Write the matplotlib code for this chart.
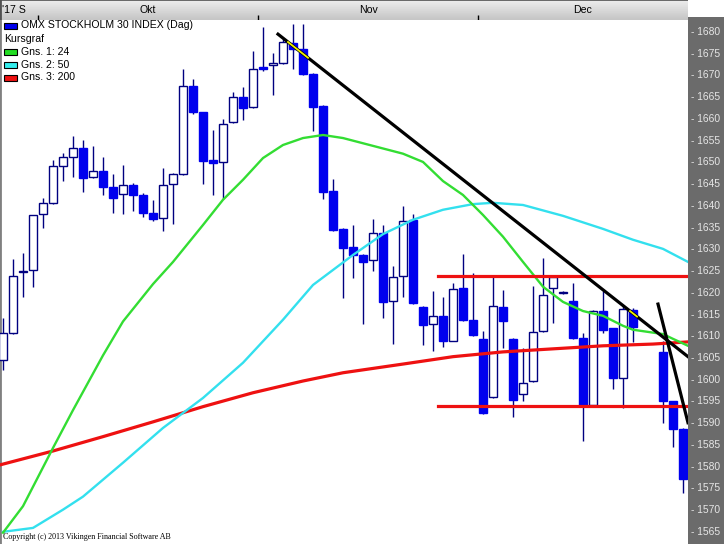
import numpy as np
import pandas as pd
import matplotlib
matplotlib.use("Agg")
import matplotlib.pyplot as plt
from matplotlib.patches import Rectangle
from matplotlib.colors import LinearSegmentedColormap
from matplotlib.transforms import blended_transform_factory

W, H = 724, 544
plt.rcParams['font.family'] = ['Liberation Sans', 'DejaVu Sans']

# trading calendar (Christmas holidays leave empty slots)
all_days = pd.bdate_range('2017-09-26', '2017-12-29')
holidays = pd.to_datetime(['2017-12-25', '2017-12-26'])
trade_days = all_days.drop(holidays)
slots = all_days.get_indexer(trade_days)

op = [1604.6, 1610.8, 1624.7, 1625.3, 1638.1, 1640.7, 1649.2, 1651.3, 1653.4, 1646.6,
      1648.0, 1644.3, 1642.7, 1644.8, 1642.5, 1638.4, 1637.2, 1645.0, 1647.3, 1667.6,
      1661.5, 1650.6, 1650.0, 1659.2, 1665.0, 1662.7, 1672.0, 1672.3, 1672.9, 1677.5,
      1676.2, 1670.3, 1663.0, 1643.4, 1634.7, 1630.5, 1628.7, 1627.5, 1633.7, 1618.1,
      1623.9, 1636.8, 1616.8, 1612.8, 1614.7, 1609.0, 1621.1, 1613.8, 1609.3, 1596.0,
      1616.8, 1609.3, 1596.7, 1599.8, 1611.1, 1621.0, 1620.0, 1618.1, 1609.6, 1594.1,
      1615.7, 1611.9, 1600.4, 1616.1, 1606.3, 1595.0, 1588.6]
hi = [1614.2, 1627.8, 1629.2, 1638.0, 1641.9, 1650.6, 1652.1, 1656.1, 1655.2, 1653.8,
      1651.3, 1647.3, 1649.4, 1645.2, 1643.0, 1641.4, 1648.7, 1647.5, 1671.4, 1669.3,
      1661.6, 1657.5, 1659.9, 1666.3, 1667.4, 1675.6, 1681.1, 1675.1, 1678.5, 1681.8,
      1681.8, 1670.5, 1663.2, 1646.1, 1635.0, 1635.6, 1629.0, 1636.9, 1635.6, 1626.2,
      1640.0, 1638.1, 1617.0, 1620.4, 1619.0, 1622.2, 1628.9, 1624.5, 1611.1, 1624.1,
      1620.7, 1609.5, 1607.3, 1621.6, 1628.0, 1624.0, 1620.3, 1622.3, 1610.7, 1616.1,
      1620.4, 1612.0, 1617.0, 1616.5, 1608.8, 1595.2, 1589.0]
lo = [1602.3, 1610.5, 1619.1, 1621.4, 1634.9, 1640.5, 1645.8, 1646.6, 1643.3, 1646.3,
      1642.4, 1638.4, 1638.1, 1638.9, 1637.5, 1636.4, 1634.3, 1635.8, 1647.0, 1661.1,
      1645.0, 1642.4, 1641.6, 1659.0, 1659.8, 1662.5, 1671.0, 1665.5, 1672.7, 1671.6,
      1670.0, 1657.3, 1641.5, 1634.3, 1618.8, 1623.4, 1612.8, 1625.1, 1614.2, 1608.2,
      1619.0, 1617.4, 1607.9, 1606.7, 1607.5, 1608.8, 1613.5, 1610.0, 1592.0, 1595.8,
      1607.3, 1591.5, 1595.0, 1599.5, 1611.0, 1613.1, 1619.7, 1609.4, 1586.0, 1594.0,
      1610.7, 1597.8, 1593.4, 1608.6, 1590.0, 1584.5, 1573.9]
cl = [1610.8, 1623.9, 1625.0, 1637.9, 1640.6, 1649.2, 1651.3, 1653.4, 1646.3, 1648.0,
      1644.3, 1641.8, 1644.8, 1642.6, 1638.3, 1636.9, 1644.8, 1647.3, 1667.6, 1661.5,
      1650.4, 1649.8, 1658.8, 1665.0, 1662.5, 1671.6, 1671.6, 1672.9, 1677.8, 1676.2,
      1670.3, 1662.8, 1643.3, 1634.5, 1630.4, 1628.7, 1627.0, 1633.7, 1617.8, 1623.6,
      1636.6, 1617.6, 1612.5, 1614.7, 1608.8, 1620.9, 1613.8, 1610.2, 1592.3, 1617.0,
      1613.4, 1595.4, 1599.3, 1610.9, 1619.5, 1623.7, 1620.1, 1609.6, 1594.2, 1615.9,
      1611.5, 1600.4, 1616.2, 1612.2, 1595.0, 1588.6, 1577.1]

# moving averages (slot, value)
ma24_x = [0, 2, 5, 7, 10, 12, 15, 17, 20, 22, 24, 26, 28, 30, 32, 34, 37, 40, 42, 44,
          46, 48, 50, 52, 54, 56, 58, 60, 62, 63, 66, 67, 68.5]
ma24_y = [1564.8, 1570.9, 1584.3, 1593.0, 1605.6, 1613.4, 1622.0, 1627.1, 1635.6, 1641.4,
          1646.0, 1651.0, 1654.0, 1655.6, 1656.3, 1655.6, 1653.8, 1652.0, 1650.1, 1645.7,
          1642.5, 1637.9, 1632.9, 1627.1, 1621.4, 1617.9, 1615.8, 1614.7, 1612.4, 1611.5,
          1610.5, 1609.4, 1607.8]
ma50_x = [0, 3, 6, 8, 12, 16, 20, 24, 28, 31, 35, 38, 41, 44, 47, 49, 52, 56, 60, 63,
          66, 68.5]
ma50_y = [1565.0, 1565.9, 1570.1, 1573.1, 1580.9, 1588.9, 1595.8, 1603.9, 1613.8, 1621.8,
          1628.7, 1633.5, 1636.8, 1639.1, 1640.4, 1640.7, 1640.2, 1637.7, 1634.7, 1632.2,
          1630.1, 1627.1]
ma200_x = [-0.3, 5, 10, 15, 20, 25, 30, 34, 40, 45, 50, 55, 60, 65, 68.5]
ma200_y = [1580.4, 1583.6, 1586.9, 1590.3, 1593.8, 1597.0, 1599.7, 1601.6, 1603.6, 1605.3,
           1606.4, 1607.1, 1607.8, 1608.2, 1608.7]

# drawn lines
hlines_val = [1623.9, 1594.0]
hlines_span = (43.5, 68.5)
trend1 = ([27.5, 68.5], [1679.5, 1605.3])
trend2 = ([65.5, 68.5], [1617.4, 1590.1])

ticks = np.arange(1565, 1681, 5)
xmin, xmax = -0.3, 68.5
ymin, ymax = 1562.2, 1682.76


def frac(x0, y0, x1, y1):
    return [x0 / W, 1 - y1 / H, (x1 - x0) / W, (y1 - y0) / H]


fig = plt.figure(figsize=(W / 100, H / 100), dpi=100)
fig.patch.set_facecolor('white')

ax = fig.add_axes(frac(0, 20, 688, 544))
ax.set_xlim(xmin, xmax)
ax.set_ylim(ymin, ymax)
ax.set_xticks([])
ax.set_yticks([])
for s in ['top', 'right', 'bottom']:
    ax.spines[s].set_visible(False)
ax.spines['left'].set_color('#808080')
ax.spines['left'].set_linewidth(2)

op, hi, lo, cl = map(np.array, (op, hi, lo, cl))
up = cl >= op
ax.vlines(slots, lo, hi, color='#000080', lw=1, zorder=2)
height = np.maximum(np.abs(cl - op), 0.25)
ax.bar(slots, height, bottom=np.minimum(op, cl), width=0.8,
       color=np.where(up, 'white', '#0000ee'),
       edgecolor=np.where(up, '#000080', '#0000ee'), linewidth=1.0, zorder=3)

ax.plot(ma200_x, ma200_y, color='#ee1111', lw=2.3, zorder=4)
ax.plot(ma50_x, ma50_y, color='#33e0ee', lw=1.7, zorder=4)
ax.plot(ma24_x, ma24_y, color='#33dd33', lw=1.7, zorder=4)

for v in hlines_val:
    ax.plot(hlines_span, [v, v], color='#ee1111', lw=2.3, zorder=5)
ax.plot(*trend1, color='black', lw=2.3, zorder=6)
ax.plot(*trend2, color='black', lw=2.3, zorder=6)
# highlight pieces on the trend line
t1x = np.array(trend1[0]); t1y = np.array(trend1[1])
for a, b in [(28.5, 30.5), (62.7, 63.4)]:
    ys = np.interp([a, b], t1x, t1y)
    ax.plot([a, b], ys, color='#f0f000', lw=1.3, zorder=7)

# header band with months
hdr = fig.add_axes(frac(0, 0, 688, 20))
cmap = LinearSegmentedColormap.from_list('hdr', ['#ececec', '#c6c6c6'])
hdr.imshow(np.linspace(0, 1, 20)[:, None], cmap=cmap, aspect='auto',
           extent=[xmin, xmax, 1, 0])
hdr.set_xlim(xmin, xmax)
hdr.set_ylim(1, 0)
hdr.set_xticks([])
hdr.set_yticks([])
for s in hdr.spines.values():
    s.set_visible(False)
hdr.axhline(0.02, color='#505050', lw=1.2)
hdr.axvline(xmin, color='#505050', lw=2)
months = trade_days.to_period('M')
bounds = []
for m in months.unique():
    idx = slots[months == m]
    bounds.append((idx[0] - 0.5, idx[-1] + 0.5, m))
names = {9: "'17 S", 10: 'Okt', 11: 'Nov', 12: 'Dec'}
for a, b, m in bounds:
    if m.month == 9:
        hdr.text(xmin + 0.2, 0.5, names[m.month], ha='left', va='center', fontsize=7.6)
    else:
        hdr.vlines(a, 0.75, 1.0, color='black', lw=1)
        hdr.text((a + b) / 2, 0.5, names[m.month], ha='center', va='center', fontsize=7.6)

# price scale panel
pan = fig.add_axes(frac(688, 17, 724, 544))
pan.set_facecolor('#6b6b6b')
pan.set_xticks([])
pan.set_yticks([])
for s in pan.spines.values():
    s.set_visible(False)
tr = blended_transform_factory(pan.transAxes, ax.transData)
for t in ticks:
    pan.text(0.08, t, '- %d' % t, transform=tr, ha='left', va='center',
             fontsize=7.4, color='#e6e6e6', clip_on=False)

# legend
leg = [('OMX STOCKHOLM 30 INDEX (Dag)', '#0000ee', 25.5),
       ('Kursgraf', None, 39),
       ('Gns. 1: 24', '#22dd22', 52),
       ('Gns. 2: 50', '#33eeee', 65),
       ('Gns. 3: 200', '#ee1111', 77.5)]
for txt, col, yc in leg:
    if col is None:
        fig.text(4 / W, 1 - yc / H, txt, ha='left', va='center', fontsize=7.6)
    else:
        fig.add_artist(Rectangle((4 / W, 1 - (yc + 3) / H), 13 / W, 6 / H,
                                 transform=fig.transFigure, facecolor=col,
                                 edgecolor='black', lw=0.8))
        fig.text(21 / W, 1 - yc / H, txt, ha='left', va='center', fontsize=7.6)

fig.text(3 / W, 1 - 537 / H, 'Copyright (c) 2013 Vikingen Financial Software AB',
         ha='left', va='center', fontsize=5.8, family='Liberation Serif')

fig.savefig('out.png', dpi=100)
